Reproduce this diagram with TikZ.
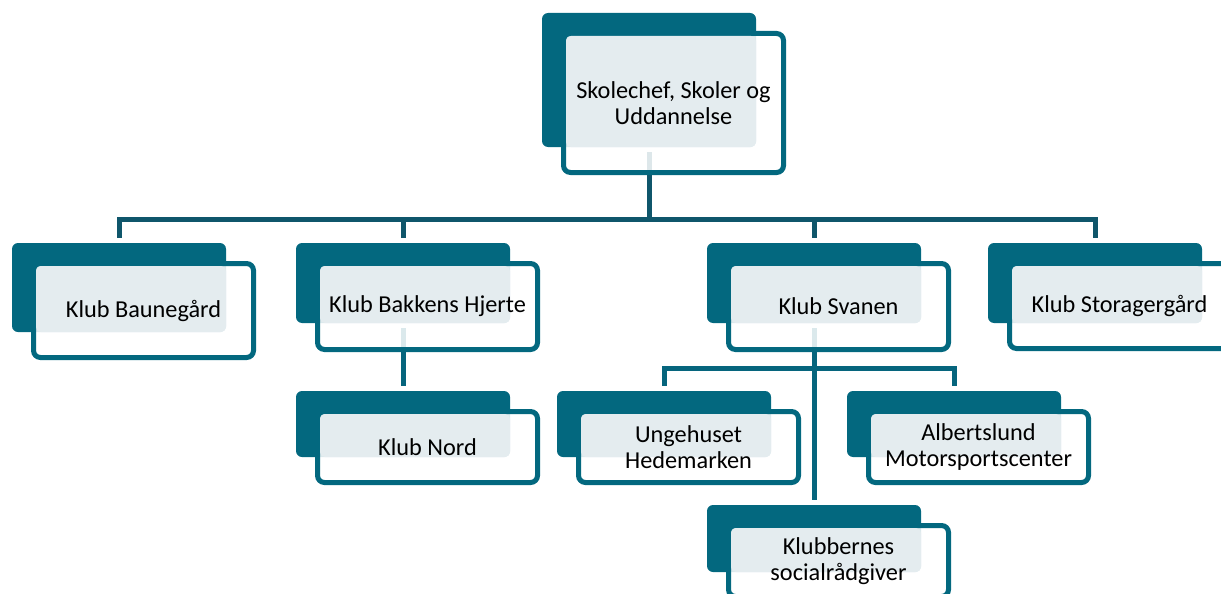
\documentclass[tikz,border=0pt]{standalone}
\usepackage{fontspec}
\setmainfont{Carlito}
\usetikzlibrary{calc}
\definecolor{teal1}{HTML}{03687F}
\definecolor{darkln}{HTML}{0F566B}
\definecolor{tealln}{HTML}{06657D}
\definecolor{lightf}{HTML}{E4ECEF}
\tikzset{
  backbox/.style={fill=teal1, rounded corners=6, minimum width=214, inner sep=0, outer sep=0, anchor=north west},
  frontbox/.style={draw=teal1, line width=5, fill=white, fill opacity=0.86, rounded corners=7, minimum width=220, inner sep=0, outer sep=0, anchor=north west},
  lightfill/.style={fill=lightf, rounded corners=5},
  txt/.style={align=center, inner sep=0, font=\fontsize{24.3}{25.5}\selectfont, text=black},
  dkline/.style={draw=darkln, line width=5, shorten <=5, shorten >=5},
  tlline/.style={draw=tealln, line width=5, shorten <=5, shorten >=5},
}
% name, back x, back y, back height, front height, text
\newcommand\orgbox[6]{%
  \node[backbox, minimum height=#4] (#1b) at (#2,#3) {};
  \node[frontbox, minimum height=#5-5] (#1f) at (#2+21.5,#3+20.5) {};
  \fill[lightfill] ([shift={(2.5,2.5)}]#1f.north west) rectangle (#1b.south east);
  \node[txt] (#1t) at (#1f.center) {#6};
}
\begin{document}
\begin{tikzpicture}[x=1pt,y=-1pt]
\useasboundingbox (0,0) rectangle (1221,594);
\clip (0,0) rectangle (1221,594);
% connector end points (centres of the back boxes)
\path (542+107,147) coordinate (c0)
      (12+107,243) coordinate (baun) (296+107,243) coordinate (bakn)
      (707+107,243) coordinate (svan) (988+107,243) coordinate (ston)
      (296+107,391) coordinate (norn) (557+107,391) coordinate (ungn)
      (847+107,391) coordinate (albn) (707+107,505) coordinate (klbn)
      (296+107,323) coordinate (baks) (707+107,323) coordinate (svas);
\draw[dkline] (c0) -- (c0 |- 0,219.5) -| (baun);
\draw[dkline] (c0) -- (c0 |- 0,219.5) -| (bakn);
\draw[dkline] (c0) -- (c0 |- 0,219.5) -| (svan);
\draw[dkline] (c0) -- (c0 |- 0,219.5) -| (ston);
\draw[tlline] (baks) -- (norn);
\draw[tlline] (svas) -- (svas |- 0,368) -| (ungn);
\draw[tlline] (svas) -- (svas |- 0,368) -| (albn);
\draw[tlline] (svas) -- (klbn);
% boxes
\orgbox{top}{542}{13}{134}{144}{Skolechef, Skoler og\\Uddannelse}
\orgbox{bau}{12}{243}{89}{99}{Klub Baunegård}
\orgbox{bak}{296}{243}{80}{91}{Klub Bakkens Hjerte}
\orgbox{sva}{707}{243}{80}{91}{Klub Svanen}
\orgbox{sto}{988}{243}{80}{90}{Klub Storagergård}
\orgbox{nor}{296}{391}{66}{76}{Klub Nord}
\orgbox{ung}{557}{391}{66}{76}{Ungehuset\\Hedemarken}
\orgbox{alb}{847}{391}{66}{76}{Albertslund\\Motorsportscenter}
\orgbox{klb}{707}{505}{67}{76}{Klubbernes\\socialrådgiver}
\end{tikzpicture}
\end{document}
